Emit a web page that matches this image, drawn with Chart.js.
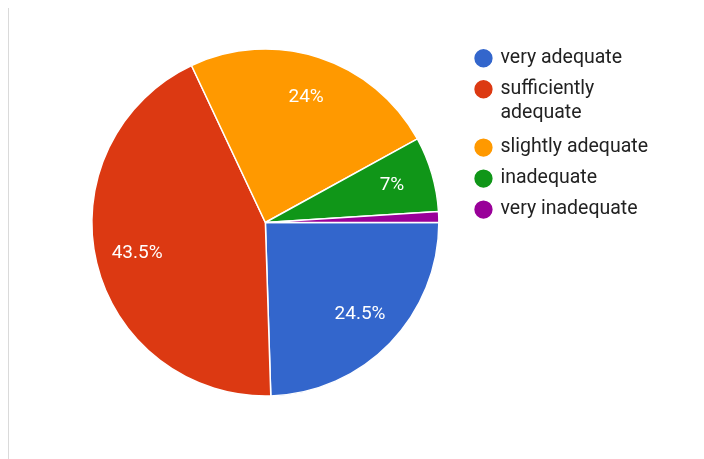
<!DOCTYPE html>
<html>
<head>
<meta charset="utf-8">
<script src="https://cdn.jsdelivr.net/npm/chart.js@4.4.1/dist/chart.umd.min.js"></script>
<style>
  html, body { margin: 0; padding: 0; background: #fff; }
  #wrap { position: relative; width: 704px; height: 459px; }
  /* thin grey rule on the left edge */
  #rule { position: absolute; left: 8px; top: 8px; bottom: 0; border-left: 1px solid #dadada; }
  canvas { position: absolute; left: 0; top: 0; }
</style>
</head>
<body>
<div id="wrap">
  <div id="rule"></div>
  <canvas id="pie" width="704" height="459"></canvas>
</div>
<script>
// categories and shares (percent)
const categories = ['very adequate', ['sufficiently', 'adequate'], 'slightly adequate', 'inadequate', 'very inadequate'];
const shares = [24.5, 43.5, 24, 7, 1];
const colors = ['#3366cc', '#dc3912', '#ff9900', '#109618', '#990099'];

// writes the percentage inside each slice big enough to hold it
const sliceLabels = {
    id: 'sliceLabels',
    afterDatasetsDraw(chart) {
        const ctx = chart.ctx;
        const meta = chart.getDatasetMeta(0);
        ctx.save();
        ctx.fillStyle = '#fff';
        ctx.font = '19px Roboto';
        ctx.textAlign = 'center';
        ctx.textBaseline = 'middle';
        meta.data.forEach((arc, i) => {
            const v = shares[i];
            if (v < 5) return;
            const p = arc.getProps(['x', 'y', 'startAngle', 'endAngle', 'outerRadius'], true);
            const mid = (p.startAngle + p.endAngle) / 2;
            const r = p.outerRadius * 0.76;
            ctx.fillText(v + '%', p.x + Math.cos(mid) * r, p.y + Math.sin(mid) * r);
        });
        ctx.restore();
    }
};

new Chart(document.getElementById('pie'), {
    type: 'pie',
    data: {
        labels: categories,
        datasets: [{
            data: shares,
            backgroundColor: colors,
            borderColor: '#fff',
            borderWidth: 1.5,
            radius: 173.5
        }]
    },
    options: {
        responsive: false,
        animation: false,
        rotation: 90,
        layout: { padding: { left: 66, right: 46, top: 37, bottom: 51 } },
        plugins: {
            legend: {
                position: 'right',
                align: 'start',
                labels: {
                    usePointStyle: true,
                    pointStyle: 'circle',
                    boxWidth: 14.5,
                    boxHeight: 14,
                    padding: 11.5,
                    color: '#222',
                    font: { family: 'Roboto', size: 19.5, lineHeight: 1.2 }
                }
            },
            tooltip: { enabled: false }
        }
    },
    plugins: [sliceLabels]
});
</script>
</body>
</html>
